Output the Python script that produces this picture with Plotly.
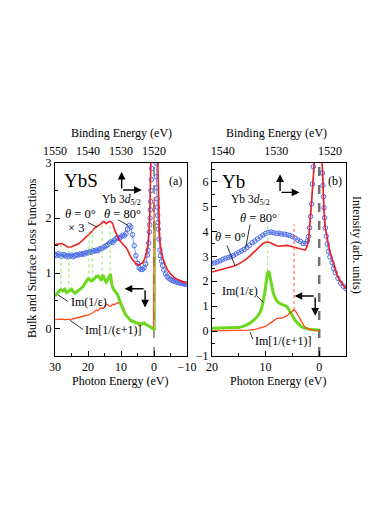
import plotly.graph_objects as go

# ---------------- Panel (a): YbS ----------------
a_E_red = [30, 29, 28, 27, 26, 25, 24, 23, 22, 21, 20, 19, 18, 17, 16.5, 16, 15.5, 15, 14.5, 14, 13.5, 13,
           12.5, 12, 11.5, 11, 10.5, 10, 9.5, 9, 8.5, 8, 7.5, 7, 6.5, 6, 5.5, 5, 4.5, 4, 3.5, 3, 2.5, 2,
           1.6, 1.3, 1.1, 0.9, 0.5, 0, -0.5, -1.0, -1.2, -1.4, -1.6, -1.8, -2.2, -2.8, -3.4, -4, -5, -6,
           -7, -8, -9, -10]
a_red = [1.52, 1.53, 1.54, 1.51, 1.47, 1.48, 1.51, 1.53, 1.58, 1.63, 1.69, 1.75, 1.82, 1.86, 1.88, 1.90,
         1.94, 1.93, 1.90, 1.92, 1.94, 1.93, 1.90, 1.80, 1.72, 1.66, 1.60, 1.57, 1.54, 1.50, 1.47, 1.42,
         1.35, 1.29, 1.25, 1.21, 1.18, 1.16, 1.15, 1.17, 1.19, 1.24, 1.32, 1.45, 1.68, 2.0, 2.45, 3.2,
         4.5, 6.0, 4.8, 3.5, 2.7, 2.1, 1.8, 1.58, 1.40, 1.25, 1.14, 1.07, 0.99, 0.93, 0.89, 0.86, 0.84, 0.83]

a_E_blue = [30, 29.5, 29, 28.5, 28, 27.5, 27, 26.5, 26, 25.5, 25, 24.5, 24, 23.5, 23, 22.5, 22, 21.5, 21,
            20.5, 20, 19.5, 19, 18.5, 18, 17.5, 17, 16.5, 16, 15.5, 15, 14.5, 14, 13.5, 13, 12.5, 12, 11.5,
            11, 10.5, 10, 9.5, 9, 8.5, 8, 7.5, 7, 6.5, 6, 5.5, 5, 4.5, 4, 3.5, 3, 2.5, 2, 1.8, 1.6, 1.4,
            1.3, 1.2, 1.1, 1.0, 0.9, 0.8, 0.7, 0.5, 0.2, 0.0, -0.2, -0.4, -0.5, -0.6, -0.7, -0.8, -0.9,
            -1.0, -1.1, -1.2, -1.3, -1.5, -1.8, -2.0, -2.3, -2.6, -3.0, -3.5, -4, -4.5, -5, -5.5, -6,
            -6.5, -7, -7.5, -8, -8.5, -9, -9.5, -10]
a_blue = [1.34, 1.32, 1.35, 1.33, 1.31, 1.34, 1.33, 1.30, 1.32, 1.31, 1.33, 1.30, 1.32, 1.34, 1.33, 1.35,
          1.34, 1.36, 1.35, 1.38, 1.37, 1.39, 1.38, 1.41, 1.40, 1.42, 1.41, 1.44, 1.45, 1.46, 1.48, 1.50,
          1.52, 1.55, 1.57, 1.56, 1.60, 1.63, 1.65, 1.63, 1.66, 1.69, 1.68, 1.72, 1.80, 1.87, 1.84, 1.70,
          1.50, 1.32, 1.18, 1.10, 1.07, 1.07, 1.10, 1.17, 1.33, 1.42, 1.55, 1.75, 1.88, 2.0, 2.15, 2.3,
          2.5, 2.7, 2.9, 3.6, 4.8, 5.5, 5.2, 4.2, 3.4, 3.0, 2.75, 2.55, 2.35, 2.2, 2.05, 1.92, 1.80,
          1.62, 1.42, 1.32, 1.22, 1.14, 1.06, 0.99, 0.94, 0.91, 0.89, 0.87, 0.86, 0.85, 0.84, 0.83, 0.82,
          0.82, 0.81, 0.80, 0.80]

a_E_green = [30, 29.5, 29, 28.5, 28, 27.5, 27, 26.5, 26, 25.5, 25, 24.5, 24, 23.5, 23, 22.5, 22, 21.5, 21,
             20.5, 20, 19.5, 19, 18.5, 18, 17.5, 17, 16.5, 16, 15.5, 15, 14.5, 14, 13.5, 13.2, 12.8, 12.5,
             12, 11.5, 11, 10.5, 10, 9.5, 9, 8.5, 8, 7.5, 7, 6.5, 6, 5.5, 5, 4.5, 4, 3.5, 3, 2.5, 2, 1.5,
             1, 0.5, 0, -0.35]
a_green = [0.59, 0.63, 0.66, 0.69, 0.70, 0.68, 0.71, 0.65, 0.67, 0.69, 0.71, 0.67, 0.64, 0.66, 0.68, 0.71,
           0.73, 0.76, 0.81, 0.85, 0.90, 0.89, 0.86, 0.87, 0.90, 0.94, 0.95, 0.92, 0.87, 0.97, 0.90, 0.84,
           0.88, 0.95, 0.99, 0.80, 0.74, 0.69, 0.65, 0.61, 0.52, 0.43, 0.35, 0.29, 0.24, 0.21, 0.17, 0.14,
           0.13, 0.11, 0.10, 0.10, 0.08, 0.07, 0.09, 0.10, 0.07, 0.06, 0.04, 0.02, 0.0, -0.03, -0.03]
# steep rise of Im(1/eps) at the edge (E -> 0)
a_E_green_edge = [-0.35, -0.4]
a_green_edge = [-0.03, 1.92]

a_E_orange = [30, 29, 28, 27, 26, 25, 24, 23, 22, 21, 20, 19.5, 19, 18.5, 18, 17.5, 17, 16.5, 16, 15.5, 15,
              14.5, 14, 13.5, 13, 12.5, 12, 11.5, 11, 10.5, 10, 9.5, 9, 8.5, 8, 7.5, 7, 6.5, 6, 5.5, 5,
              4.5, 4, 3.5, 3, 2.5, 2, 1.5, 1, 0.5, 0.1, -0.05]
a_orange = [0.16, 0.17, 0.17, 0.16, 0.16, 0.17, 0.18, 0.20, 0.21, 0.23, 0.24, 0.25, 0.27, 0.29, 0.31, 0.33,
            0.32, 0.36, 0.37, 0.36, 0.39, 0.44, 0.43, 0.40, 0.41, 0.44, 0.43, 0.45, 0.47, 0.45, 0.44, 0.40,
            0.32, 0.26, 0.22, 0.18, 0.15, 0.14, 0.12, 0.11, 0.11, 0.10, 0.10, 0.09, 0.08, 0.08, 0.06, 0.05,
            0.04, 0.02, -0.02, 2.38]

# dotted guide lines linking loss-function features to spectrum features
a_feat_E = [28.2, 25.8, 19.7, 18.7, 15.7, 13.3]
a_feat_low = [0.70, 0.70, 0.89, 0.89, 0.94, 0.94]
a_feat_high = [1.52, 1.49, 1.74, 1.79, 1.92, 1.93]

# ---------------- Panel (b): Yb ----------------
b_E_red = [20, 19, 18, 17, 16, 15, 14, 13, 12, 11, 10.5, 10, 9.5, 9, 8.5, 8, 7.5, 7, 6.5, 6, 5.5, 5, 4.5,
           4, 3.5, 3, 2.6, 2.3, 2.0, 1.7, 1.4, 1.2, 1.0, 0.9, 0, -0.5, -0.7, -0.9, -1.1, -1.4, -1.7, -2.0,
           -2.4, -2.8, -3.3, -3.8, -4.3, -4.8, -5.0]
b_red = [2.37, 2.42, 2.47, 2.53, 2.60, 2.70, 2.83, 3.0, 3.22, 3.42, 3.52, 3.57, 3.58, 3.54, 3.48, 3.43,
         3.41, 3.42, 3.44, 3.44, 3.42, 3.39, 3.36, 3.33, 3.30, 3.26, 3.25, 3.38, 3.6, 4.4, 5.2, 5.7, 6.5,
         7.0, 10.0, 7.0, 5.6, 4.8, 4.2, 3.8, 3.5, 3.2, 2.9, 2.55, 2.28, 2.05, 1.88, 1.75, 1.70]

b_E_blue = [20, 19.5, 19, 18.5, 18, 17.5, 17, 16.5, 16, 15.5, 15, 14.5, 14, 13.5, 13, 12.5, 12, 11.5, 11,
            10.5, 10, 9.5, 9, 8.5, 8, 7.5, 7, 6.5, 6, 5.5, 5, 4.5, 4, 3.5, 3, 2.5, 2.2, 2.0, 1.8, 1.6, 1.4,
            1.25, 1.1, 1.0, 0.5, 0, -0.4, -0.6, -0.7, -0.8, -0.9, -1.0, -1.15, -1.3, -1.5, -1.75, -2.0,
            -2.4, -2.7, -3.0, -3.5, -4.0, -4.5, -5.0]
b_blue = [2.72, 2.74, 2.78, 2.82, 2.88, 2.92, 2.95, 2.99, 3.04, 3.10, 3.16, 3.22, 3.28, 3.35, 3.45, 3.55,
          3.62, 3.70, 3.78, 3.85, 3.92, 3.96, 3.98, 3.95, 3.92, 3.93, 3.90, 3.89, 3.87, 3.84, 3.80, 3.74,
          3.66, 3.60, 3.52, 3.52, 3.62, 3.8, 4.15, 4.6, 5.1, 5.9, 6.6, 7.2, 9.0, 10.0, 8.0, 6.35, 5.85,
          5.4, 4.95, 4.55, 4.15, 3.81, 3.5, 3.2, 2.98, 2.75, 2.52, 2.35, 2.12, 1.93, 1.80, 1.70]

b_E_green = [20, 19, 18, 17, 16, 15, 14.5, 14, 13.5, 13, 12.5, 12, 11.5, 11, 10.7, 10.4, 10.1, 9.9, 9.7,
             9.5, 9.3, 9.1, 8.9, 8.6, 8.3, 8.0, 7.6, 7.2, 6.8, 6.4, 6.0, 5.7, 5.4, 5.0, 4.6, 4.2, 3.8, 3.4,
             3.0, 2.5, 2.0, 1.5, 1.0, 0.5, 0.0]
b_green = [0.11, 0.11, 0.11, 0.11, 0.12, 0.14, 0.17, 0.20, 0.25, 0.31, 0.39, 0.48, 0.60, 0.76, 0.95, 1.22,
           1.6, 1.95, 2.30, 2.40, 2.33, 2.1, 1.82, 1.55, 1.38, 1.24, 1.15, 1.09, 1.05, 1.03, 0.98, 0.88,
           0.75, 0.60, 0.47, 0.36, 0.26, 0.19, 0.14, 0.10, 0.08, 0.06, 0.05, 0.05, 0.04]

b_E_orange = [20, 18, 16, 14, 13, 12, 11, 10, 9.5, 9, 8.5, 8, 7.5, 7, 6.5, 6, 5.5, 5, 4.7, 4.4, 4.0, 3.6,
              3.2, 2.8, 2.4, 2.0, 1.5, 1.0, 0.5, 0.0]
b_orange = [0.01, 0.01, 0.01, 0.02, 0.04, 0.07, 0.12, 0.19, 0.26, 0.35, 0.44, 0.50, 0.52, 0.52, 0.56, 0.62,
            0.72, 0.82, 0.85, 0.80, 0.65, 0.48, 0.32, 0.20, 0.12, 0.08, 0.05, 0.03, 0.02, 0.01]

b_feat_green_E = [9.6]
b_feat_green_low = [2.40]
b_feat_green_high = [4.24]
b_feat_orange_E = [4.7]
b_feat_orange_low = [0.85]
b_feat_orange_high = [4.28]

# tick labels
a_bottom_ticks = [30, 20, 10, 0, -10]
a_top_ticks = [1550, 1540, 1530, 1520]
b_bottom_ticks = [20, 10, 0]
b_top_ticks = [1540, 1530, 1520]

RED = "#ee1f1f"
BLUE = "#4a6ae8"
GREEN = "#6ad81c"
ORANGE = "#ff4a1a"
DOTGREEN = "#8de85a"
FONT = "Liberation Serif"

# the page body adds an 8 px margin; the figure is sized to fit the rest of the window
OFF = 8
W, H = 390 - OFF, 520 - OFF


def px(xp):
    return (xp - OFF) / W


def py(yp):
    return 1 - (yp - OFF) / H


def vlines(xs, lo, hi):
    X, Y = [], []
    for e, a, b in zip(xs, lo, hi):
        X += [e, e, None]
        Y += [a, b, None]
    return X, Y


fig = go.Figure()

# panel a traces
fig.add_trace(go.Scatter(x=a_E_blue, y=a_blue, mode="lines+markers", xaxis="x", yaxis="y",
                         line=dict(color=BLUE, width=0.7),
                         marker=dict(symbol="circle-open", size=4.5, color=BLUE, line=dict(width=1))))
fig.add_trace(go.Scatter(x=a_E_red, y=a_red, mode="lines", xaxis="x", yaxis="y",
                         line=dict(color=RED, width=1.6)))
gx, gy = vlines(a_feat_E, a_feat_low, a_feat_high)
fig.add_trace(go.Scatter(x=gx, y=gy, mode="lines", xaxis="x", yaxis="y",
                         line=dict(color=DOTGREEN, width=1, dash="dot")))
fig.add_trace(go.Scatter(x=a_E_green_edge, y=a_green_edge, mode="lines", xaxis="x", yaxis="y",
                         line=dict(color=GREEN, width=1.2)))
fig.add_trace(go.Scatter(x=a_E_orange, y=a_orange, mode="lines", xaxis="x", yaxis="y",
                         line=dict(color=ORANGE, width=1.3)))
fig.add_trace(go.Scatter(x=a_E_green, y=a_green, mode="lines", xaxis="x", yaxis="y",
                         line=dict(color=GREEN, width=3)))

# panel b traces
fig.add_trace(go.Scatter(x=b_E_blue, y=b_blue, mode="lines+markers", xaxis="x2", yaxis="y2",
                         line=dict(color=BLUE, width=0.7),
                         marker=dict(symbol="circle-open", size=4.5, color=BLUE, line=dict(width=1))))
fig.add_trace(go.Scatter(x=b_E_red, y=b_red, mode="lines", xaxis="x2", yaxis="y2",
                         line=dict(color=RED, width=1.6)))
gx, gy = vlines(b_feat_green_E, b_feat_green_low, b_feat_green_high)
fig.add_trace(go.Scatter(x=gx, y=gy, mode="lines", xaxis="x2", yaxis="y2",
                         line=dict(color=DOTGREEN, width=1, dash="dot")))
ox, oy = vlines(b_feat_orange_E, b_feat_orange_low, b_feat_orange_high)
fig.add_trace(go.Scatter(x=ox, y=oy, mode="lines", xaxis="x2", yaxis="y2",
                         line=dict(color=ORANGE, width=1, dash="dot")))
fig.add_trace(go.Scatter(x=b_E_green, y=b_green, mode="lines", xaxis="x2", yaxis="y2",
                         line=dict(color=GREEN, width=3)))
fig.add_trace(go.Scatter(x=b_E_orange, y=b_orange, mode="lines", xaxis="x2", yaxis="y2",
                         line=dict(color=ORANGE, width=1.3)))

# empty traces so the top (binding energy) axes exist
fig.add_trace(go.Scatter(x=[], y=[], xaxis="x3", yaxis="y"))
fig.add_trace(go.Scatter(x=[], y=[], xaxis="x4", yaxis="y2"))

tickfont = dict(family=FONT, size=12, color="black")
common = dict(showline=True, mirror=True, linecolor="black", linewidth=1, ticks="inside", ticklen=5,
              tickcolor="black", tickwidth=1, showgrid=False, zeroline=False, tickfont=tickfont,
              automargin=False)
topax = dict(side="top", ticks="", showline=False, showgrid=False, zeroline=False, tickfont=tickfont,
             automargin=False, ticklabelstandoff=5)

ydom = [py(356), py(163)]

fig.update_layout(
    template="none",
    width=W, height=H, margin=dict(l=0, r=0, t=0, b=0, pad=0),
    paper_bgcolor="white", plot_bgcolor="white", showlegend=False,
    font=dict(family=FONT, size=12, color="black"),
    xaxis=dict(domain=[px(55), px(187)], range=[30, -10], anchor="y", tickvals=a_bottom_ticks,
               minor=dict(tickvals=[25, 15, 5, -5], ticks="inside", ticklen=3, tickcolor="black"), **common),
    yaxis=dict(domain=ydom, range=[-0.5, 3], anchor="x", tickvals=[0, 1, 2, 3],
               minor=dict(tickvals=[-0.5, 0.5, 1.5, 2.5], ticks="inside", ticklen=3, tickcolor="black"),
               **common),
    xaxis2=dict(domain=[px(212), px(346)], range=[20, -5], anchor="y2", tickvals=b_bottom_ticks,
                minor=dict(tickvals=[15, 5, -5], ticks="inside", ticklen=3, tickcolor="black"), **common),
    yaxis2=dict(domain=ydom, range=[-1, 6.75], anchor="x2", tickvals=[-1, 0, 1, 2, 3, 4, 5, 6],
                minor=dict(tickvals=[-0.5, 0.5, 1.5, 2.5, 3.5, 4.5, 5.5, 6.5], ticks="inside", ticklen=3,
                           tickcolor="black"), **common),
    xaxis3=dict(overlaying="x", anchor="y", range=[1550, 1510], tickvals=a_top_ticks, **topax),
    xaxis4=dict(overlaying="x2", anchor="y2", range=[1542, 1517], tickvals=b_top_ticks, **topax),
)

# vertical dashed lines at zero photon energy
fig.add_shape(type="line", xref="x", yref="y domain", x0=0, x1=0, y0=0, y1=1,
              line=dict(color="black", width=0.8, dash="dash"), layer="below")
fig.add_shape(type="line", xref="x2", yref="y2 domain", x0=0, x1=0, y0=0, y1=1,
              line=dict(color="#707070", width=2.5, dash="dash"), layer="below")

# pointer lines
pointers_a = [((20.0, 1.92), (17.3, 1.84)), ((10.9, 1.97), (7.9, 1.87)),
              ((29.1, 0.61), (26.1, 0.49)), ((25.5, 0.15), (21.5, -0.02))]
for (x0, y0), (x1, y1) in pointers_a:
    fig.add_shape(type="line", xref="x", yref="y", x0=x0, y0=y0, x1=x1, y1=y1,
                  line=dict(color="black", width=0.8))
pointers_b = [((12.9, 4.28), (13.7, 3.36)), ((17.2, 3.44), (15.7, 2.62)),
              ((11.6, 1.41), (10.4, 1.15)), ((12.9, -0.04), (12.4, -0.32))]
for (x0, y0), (x1, y1) in pointers_b:
    fig.add_shape(type="line", xref="x2", yref="y2", x0=x0, y0=y0, x1=x1, y1=y1,
                  line=dict(color="black", width=0.8))


def arrow(xr, yr, hx, hy, tx, ty):
    fig.add_annotation(x=hx, y=hy, ax=tx, ay=ty, xref=xr, yref=yr, axref=xr, ayref=yr, text="",
                       showarrow=True, arrowhead=2, arrowsize=1.1, arrowwidth=1.4, arrowcolor="black")


# L-shaped axis-indicator arrows
arrow("x", "y", 9.8, 2.84, 9.8, 2.51)
arrow("x", "y", 3.7, 2.51, 9.8, 2.51)
arrow("x", "y", 8.9, 0.72, 2.7, 0.72)
arrow("x", "y", 2.7, 0.38, 2.7, 0.72)
arrow("x2", "y2", 7.3, 6.30, 7.3, 5.57)
arrow("x2", "y2", 3.7, 5.57, 7.3, 5.57)
arrow("x2", "y2", 4.6, 1.41, 0.75, 1.41)
arrow("x2", "y2", 0.75, 0.62, 0.75, 1.41)


def label(xr, yr, x, y, text, size=12, xanchor="center"):
    fig.add_annotation(x=x, y=y, xref=xr, yref=yr, text=text, showarrow=False, xanchor=xanchor,
                       yanchor="middle", font=dict(family=FONT, size=size, color="black"))


label("x", "y", 22.1, 2.69, "YbS", 19)
label("x", "y", -6.4, 2.68, "(a)", 12)
label("x", "y", 10.0, 2.33, "Yb 3<i>d</i><sub>5/2</sub>", 11.5)
label("x", "y", 22.4, 2.07, "<i>θ</i> = 0°", 12.5)
label("x", "y", 23.5, 1.83, "× 3", 12.5)
label("x", "y", 9.6, 2.07, "<i>θ</i> = 80°", 12.5)
label("x", "y", 25.8, 0.48, "Im(1/ε)", 12, "left")
label("x", "y", 21.5, -0.02, "Im[1/(ε+1)]", 12, "left")

label("x2", "y2", 15.9, 6.0, "Yb", 19)
label("x2", "y2", -3.0, 6.04, "(b)", 12)
label("x2", "y2", 12.9, 5.28, "Yb 3<i>d</i><sub>5/2</sub>", 11.5)
label("x2", "y2", 11.4, 4.56, "<i>θ</i> = 80°", 12.5)
label("x2", "y2", 16.5, 3.76, "<i>θ</i> = 0°", 12.5)
label("x2", "y2", 18.6, 1.6, "Im(1/ε)", 12, "left")
label("x2", "y2", 12.4, -0.40, "Im[1/(ε+1)]", 12, "left")

# axis titles
for x, y, t, ang in [(121, 133, "Binding Energy (eV)", 0),
                     (276, 133, "Binding Energy (eV)", 0),
                     (120, 381, "Photon Energy (eV)", 0),
                     (278, 381, "Photon Energy (eV)", 0),
                     (32, 258, "Bulk and Surface Loss Functions", -90),
                     (357, 245, "Intensity (arb. units)", 90)]:
    fig.add_annotation(x=px(x), y=py(y), xref="paper", yref="paper", text=t, showarrow=False, textangle=ang,
                       xanchor="center", yanchor="middle", font=dict(family=FONT, size=12, color="black"))

fig.write_html("out.html")
